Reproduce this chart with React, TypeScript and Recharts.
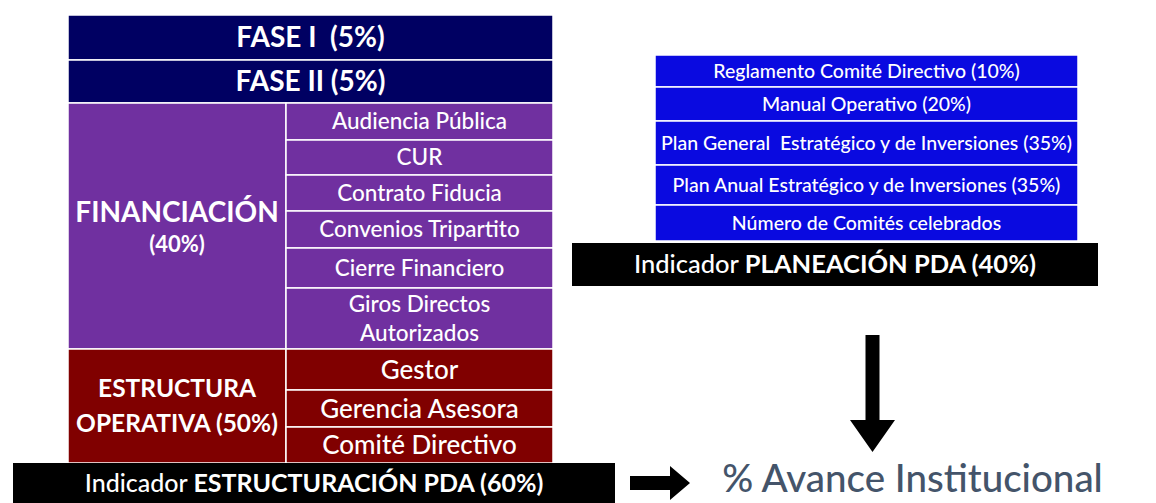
import { ComposedChart, XAxis, YAxis, ReferenceArea } from "recharts";

// ---- etiquetas del diagrama ----
const phaseLabels = ["FASE I  (5%)", "FASE II (5%)"];
const financiacionName = ["FINANCIACIÓN", "(40%)"];
const financiacionItems = [
  ["Audiencia Pública"],
  ["CUR"],
  ["Contrato Fiducia"],
  ["Convenios Tripartito"],
  ["Cierre Financiero"],
  ["Giros Directos", "Autorizados"],
];
const estructuraName = ["ESTRUCTURA", "OPERATIVA (50%)"];
const estructuraItems = [["Gestor"], ["Gerencia Asesora"], ["Comité Directivo"]];
const planeacionItems = [
  "Reglamento Comité Directivo (10%)",
  "Manual Operativo (20%)",
  "Plan General  Estratégico y de Inversiones (35%)",
  "Plan Anual Estratégico y de Inversiones (35%)",
  "Número de Comités celebrados",
];
const estructuracionIndicator = ["Indicador ", "ESTRUCTURACIÓN PDA (60%)"];
const planeacionIndicator = ["Indicador ", "PLANEACIÓN PDA (40%)"];
const resultLabel = "% Avance Institucional";

// ---- layout (px) ----
const W = 1156;
const H = 503;
const FONT = "Lato, 'Open Sans', sans-serif";
const NAVY = "#000062";
const PURPLE = "#7030a0";
const RED = "#800000";
const BLUE = "#0a0ae0";

const leftX = [68, 286, 553];
const leftTop = 15;
const phaseH = [45, 43];
const finH = [37, 35, 36, 37, 40, 61];
const estH = [41, 37, 36];
const rightX = [655, 1078];
const rightTop = 55;
const planH = [32, 34, 44, 40, 36];

type Line = { spans: { t: string; b?: boolean }[]; size: number };

function textLabel(lines: Line[], color = "#fff", gap = 1.25) {
  return (props: any) => {
    const vb = props.viewBox || {};
    const cx = vb.x + vb.width / 2;
    const total = lines.reduce((s, l) => s + l.size * gap, 0);
    let y = vb.y + vb.height / 2 - total / 2;
    return (
      <text textAnchor="middle" fill={color} fontFamily={FONT} style={{ whiteSpace: "pre" }}>
        {lines.map((l, i) => {
          const lineY = y + (l.size * gap) / 2 + l.size * 0.35;
          y += l.size * gap;
          return (
            <tspan key={i} x={cx} y={lineY} fontSize={l.size}>
              {l.spans.map((s, j) => (
                <tspan key={j} fontWeight={s.b ? 700 : 500}>
                  {s.t}
                </tspan>
              ))}
            </tspan>
          );
        })}
      </text>
    );
  };
}

const simple = (txt: string[], size: number, bold = false): Line[] =>
  txt.map((t) => ({ spans: [{ t, b: bold }], size }));

function cumulative(start: number, heights: number[]) {
  const out: [number, number][] = [];
  let y = start;
  heights.forEach((h) => {
    out.push([y, y + h]);
    y += h;
  });
  return out;
}

function Cell({ x1, x2, y1, y2, fill, label }: any) {
  return (
    <ReferenceArea
      x1={x1}
      x2={x2}
      y1={y1}
      y2={y2}
      fill={fill}
      fillOpacity={1}
      stroke="#ffffff"
      strokeWidth={1.5}
      ifOverflow="visible"
      label={label}
    />
  );
}

const downArrow = (p: any) => {
  const { x, y, width, height } = p;
  const cx = x + width / 2;
  const shaft = 7;
  const headY = y + height - 32;
  return (
    <path
      d={`M${cx - shaft},${y} L${cx + shaft},${y} L${cx + shaft},${headY} L${x + width},${headY} L${cx},${y + height} L${x},${headY} L${cx - shaft},${headY} Z`}
      fill="#000"
    />
  );
};

const rightArrow = (p: any) => {
  const { x, y, width, height } = p;
  const cy = y + height / 2;
  const shaft = 7;
  const headX = x + width - 20;
  return (
    <path
      d={`M${x},${cy - shaft} L${headX},${cy - shaft} L${headX},${y} L${x + width},${cy} L${headX},${y + height} L${headX},${cy + shaft} L${x},${cy + shaft} Z`}
      fill="#000"
    />
  );
};

export default function App() {
  const phaseRows = cumulative(leftTop, phaseH);
  const finRows = cumulative(phaseRows[1][1], finH);
  const estRows = cumulative(finRows[finRows.length - 1][1], estH);
  const planRows = cumulative(rightTop, planH);
  const leftBottom = estRows[estRows.length - 1][1];

  return (
    <div style={{ position: "absolute", left: 0, top: 0, width: W, height: H, background: "#fff" }}>
      <ComposedChart width={W} height={H} data={[]} margin={{ top: 0, right: 0, bottom: 0, left: 0 }}>
        <XAxis type="number" dataKey="x" domain={[0, W]} hide allowDataOverflow />
        <YAxis type="number" dataKey="y" domain={[0, H]} reversed hide allowDataOverflow width={0} />

        {phaseLabels.map((t, i) => (
          <Cell
            key={t}
            x1={leftX[0]}
            x2={leftX[2]}
            y1={phaseRows[i][0]}
            y2={phaseRows[i][1]}
            fill={NAVY}
            label={textLabel(simple([t], 28, true))}
          />
        ))}

        <Cell
          x1={leftX[0]}
          x2={leftX[1]}
          y1={finRows[0][0]}
          y2={finRows[finRows.length - 1][1]}
          fill={PURPLE}
          label={textLabel([
            { spans: [{ t: financiacionName[0], b: true }], size: 28 },
            { spans: [{ t: financiacionName[1], b: true }], size: 22 },
          ], "#fff", 1.3)}
        />
        {financiacionItems.map((t, i) => (
          <Cell
            key={t.join()}
            x1={leftX[1]}
            x2={leftX[2]}
            y1={finRows[i][0]}
            y2={finRows[i][1]}
            fill={PURPLE}
            label={textLabel(simple(t, 22.5), "#fff", 1.3)}
          />
        ))}

        <Cell
          x1={leftX[0]}
          x2={leftX[1]}
          y1={estRows[0][0]}
          y2={leftBottom}
          fill={RED}
          label={textLabel(simple(estructuraName, 24.5, true), "#fff", 1.4)}
        />
        {estructuraItems.map((t, i) => (
          <Cell
            key={t.join()}
            x1={leftX[1]}
            x2={leftX[2]}
            y1={estRows[i][0]}
            y2={estRows[i][1]}
            fill={RED}
            label={textLabel(simple(t, 26))}
          />
        ))}

        <ReferenceArea
          x1={13}
          x2={615}
          y1={leftBottom}
          y2={H}
          fill="#000"
          fillOpacity={1}
          ifOverflow="visible"
          label={textLabel([
            { spans: [{ t: estructuracionIndicator[0] }, { t: estructuracionIndicator[1], b: true }], size: 25 },
          ])}
        />

        {planeacionItems.map((t, i) => (
          <Cell
            key={t}
            x1={rightX[0]}
            x2={rightX[1]}
            y1={planRows[i][0]}
            y2={planRows[i][1]}
            fill={BLUE}
            label={textLabel(simple([t], 19.5))}
          />
        ))}

        <ReferenceArea
          x1={572}
          x2={1098}
          y1={243}
          y2={286}
          fill="#000"
          fillOpacity={1}
          ifOverflow="visible"
          label={textLabel([
            { spans: [{ t: planeacionIndicator[0] }, { t: planeacionIndicator[1], b: true }], size: 25.5 },
          ])}
        />

        <ReferenceArea x1={850} x2={895} y1={335} y2={452} ifOverflow="visible" shape={downArrow} />
        <ReferenceArea x1={630} x2={690} y1={466} y2={500} ifOverflow="visible" shape={rightArrow} />

        <ReferenceArea
          x1={705}
          x2={1120}
          y1={458}
          y2={500}
          fill="none"
          ifOverflow="visible"
          label={textLabel(simple([resultLabel], 38.5), "#44546a", 1.1)}
        />
      </ComposedChart>
    </div>
  );
}
